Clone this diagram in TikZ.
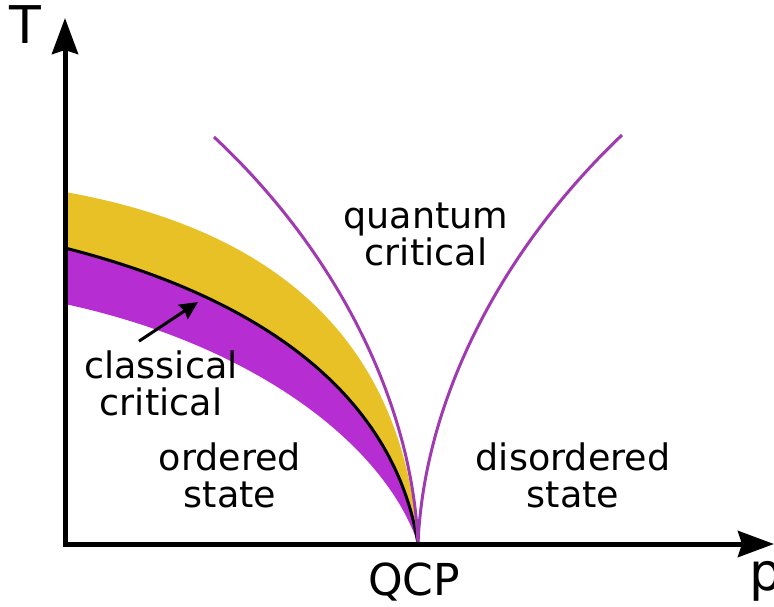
\documentclass[tikz,border=0pt]{standalone}
\usepackage{fontspec}
\setmainfont{DejaVu Sans}
\usepackage{tikz}
\usetikzlibrary{arrows.meta,positioning}
\definecolor{bandyellow}{RGB}{231,193,38}
\definecolor{bandpurple}{RGB}{182,46,210}
\definecolor{qcline}{RGB}{160,58,176}

\begin{document}
\begin{tikzpicture}[
			x=1pt,y=-1pt,
			region/.style={
				align=center,
				inner sep=0pt,
				font=\fontsize{36.5}{37}\selectfont
			},
			axislabel/.style={
				inner sep=0pt,
				font=\fontsize{52}{56}\selectfont
			},
			axis/.style={line width=5pt,{Stealth[length=36pt,width=26pt,inset=4pt]}-{Stealth[length=36pt,width=26pt,inset=4pt]}},
			crossover/.style={qcline,line width=3pt},
			pointer/.style={line width=3pt,-{Stealth[length=18pt,width=17pt,inset=2pt]}}
			]
			
			\useasboundingbox (0,0) rectangle (774,606);
			
			\coordinate (origin) at (65,544);
			\coordinate (tend) at (65,18);
			\coordinate (pend) at (774,544);
			\coordinate (qcp) at (418,544);
			
			\fill[bandyellow] (65,192) .. controls (290,232) and (404,352) .. (qcp)
			.. controls (395,400) and (270,300) .. (65,248) -- cycle;
			\fill[bandpurple] (65,248) .. controls (270,300) and (395,400) .. (qcp)
			.. controls (385,445) and (255,345) .. (65,304) -- cycle;
			\draw[line width=3pt] (65,248) .. controls (270,300) and (395,400) .. (qcp);
			
			\draw[crossover] (214,137) .. controls (335,250) and (412,400) .. (qcp);
			\draw[crossover] (622,135) .. controls (501,250) and (424,400) .. (qcp);
			
			\draw[axis] (tend) -- (origin) -- (pend);
			
			\node[axislabel,anchor=base west] (tlabel) at (9,43) {T};
			\node[axislabel,anchor=base west] (plabel) at (749,590) {p};
			\node[axislabel,anchor=base,font=\fontsize{44}{48}\selectfont] (qcplabel) at (414,595) {QCP};
			
			\node[region] (quantum) at (426,234) {quantum\\critical};
			\node[region] (classical) at (161,383) {classical\\critical};
			\node[region] (ordered) at (230,475) {ordered\\state};
			\node[region] (disordered) at (573,475) {disordered\\state};
			
			\coordinate (cctip) at (198,302);
			\draw[pointer] (classical.north) ++(-22,-9) coordinate (cctail) -- (cctip);
			
		\end{tikzpicture}
\end{document}
